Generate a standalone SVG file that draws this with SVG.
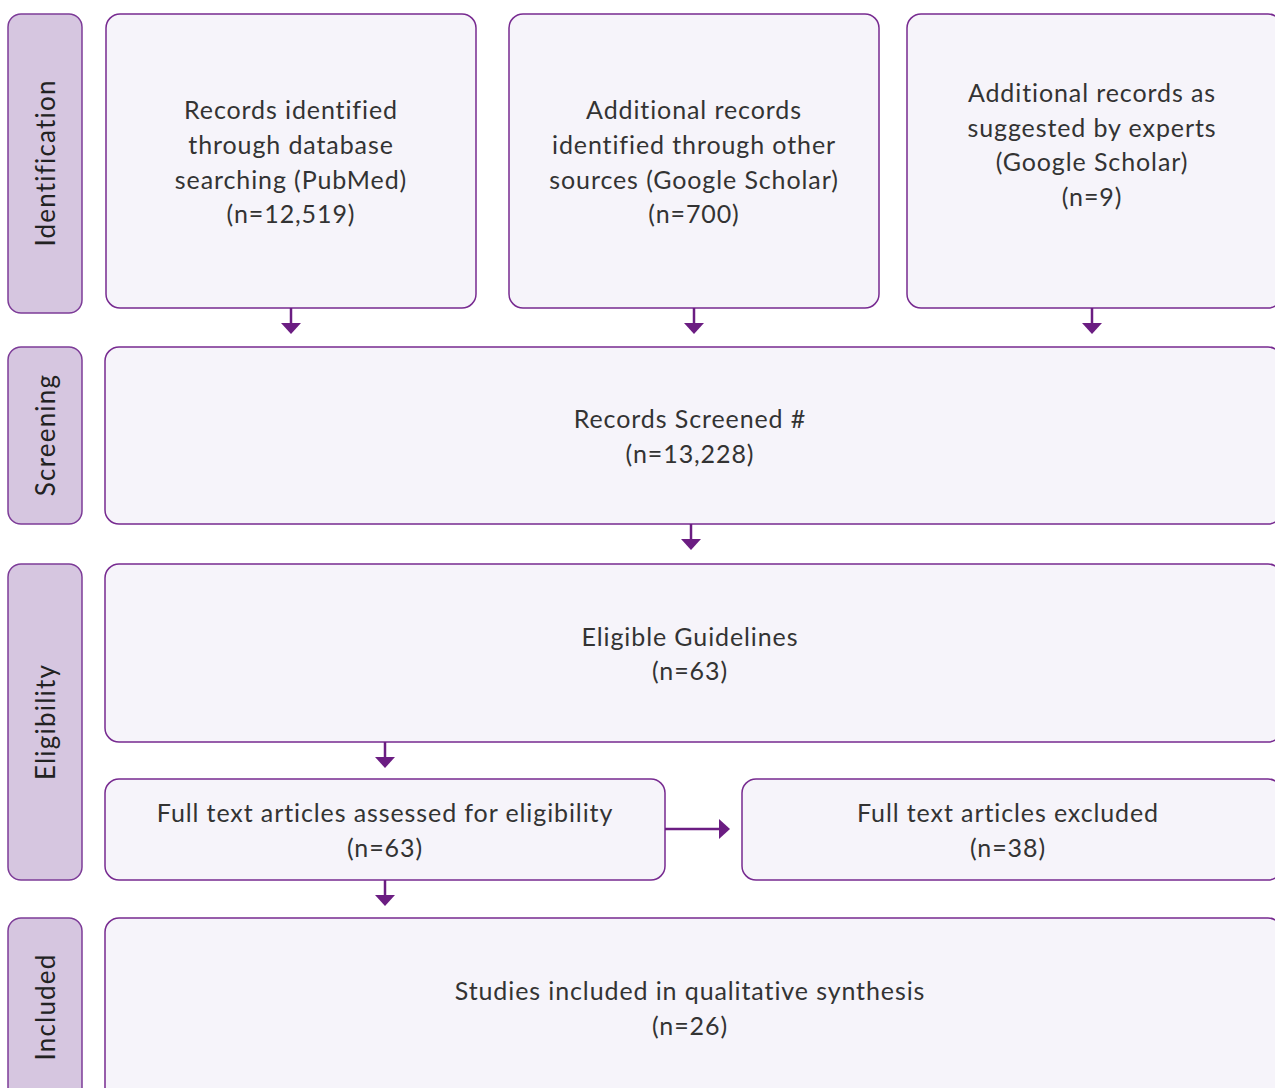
<svg xmlns="http://www.w3.org/2000/svg" width="1275" height="1088" viewBox="0 0 1275 1088">
<style>
.phase{fill:#d6c6e0;stroke:#7d3c98;stroke-width:1.5}
.box{fill:#f6f4fa;stroke:#772a90;stroke-width:1.5}
.t{font-family:Lato,"Open Sans",sans-serif;font-size:25px;letter-spacing:0.9px;fill:#333;text-anchor:middle}
.pt{font-family:Lato,"Open Sans",sans-serif;font-size:26px;letter-spacing:1.2px;fill:#222;text-anchor:middle}
.c{stroke:#6b1d82;stroke-width:2.5;fill:none}
</style>
<defs>
<marker id="ah" markerWidth="10" markerHeight="10" refX="0" refY="5" orient="auto" markerUnits="userSpaceOnUse" viewBox="0 0 10 10" overflow="visible">
<path d="M-1,-5 L10,5 L-1,15 Z" fill="#6b1d82"/>
</marker>
</defs>
<rect width="1275" height="1088" fill="#fff"/>
<g id="phase-identification"><rect class="phase" x="8" y="14" width="74" height="299" rx="13"/><text class="pt" transform="translate(55,163) rotate(-90)">Identification</text></g>
<g id="phase-screening"><rect class="phase" x="8" y="347" width="74" height="177" rx="13"/><text class="pt" transform="translate(55,435) rotate(-90)">Screening</text></g>
<g id="phase-eligibility"><rect class="phase" x="8" y="564" width="74" height="316" rx="13"/><text class="pt" transform="translate(55,722) rotate(-90)">Eligibility</text></g>
<g id="phase-included"><rect class="phase" x="8" y="918" width="74" height="190" rx="13"/><text class="pt" transform="translate(55,1007) rotate(-90)">Included</text></g>

<g id="box-pubmed"><rect class="box" x="106" y="14" width="370" height="294" rx="14"/>
<text class="t" x="291" y="119">Records identified</text><text class="t" x="291" y="154">through database</text><text class="t" x="291" y="189">searching (PubMed)</text><text class="t" x="291" y="223">(n=12,519)</text></g>
<g id="box-other"><rect class="box" x="509" y="14" width="370" height="294" rx="14"/>
<text class="t" x="694" y="119">Additional records</text><text class="t" x="694" y="154">identified through other</text><text class="t" x="694" y="189">sources (Google Scholar)</text><text class="t" x="694" y="223">(n=700)</text></g>
<g id="box-experts"><rect class="box" x="907" y="14" width="375" height="294" rx="14"/>
<text class="t" x="1092" y="102">Additional records as</text><text class="t" x="1092" y="137">suggested by experts</text><text class="t" x="1092" y="171">(Google Scholar)</text><text class="t" x="1092" y="206">(n=9)</text></g>
<g id="box-screened"><rect class="box" x="105" y="347" width="1177" height="177" rx="14"/>
<text class="t" x="690" y="428">Records Screened #</text><text class="t" x="690" y="463">(n=13,228)</text></g>
<g id="box-eligible"><rect class="box" x="105" y="564" width="1177" height="178" rx="14"/>
<text class="t" x="690" y="646">Eligible Guidelines</text><text class="t" x="690" y="680">(n=63)</text></g>
<g id="box-assessed"><rect class="box" x="105" y="779" width="560" height="101" rx="14"/>
<text class="t" x="385" y="822">Full text articles assessed for eligibility</text><text class="t" x="385" y="857">(n=63)</text></g>
<g id="box-excluded"><rect class="box" x="742" y="779" width="540" height="101" rx="14"/>
<text class="t" x="1008" y="822">Full text articles excluded</text><text class="t" x="1008" y="857">(n=38)</text></g>
<g id="box-included"><rect class="box" x="105" y="918" width="1177" height="190" rx="14"/>
<text class="t" x="690" y="1000">Studies included in qualitative synthesis</text><text class="t" x="690" y="1035">(n=26)</text></g>

<g id="connectors">
<path class="c" d="M291,308 V324" marker-end="url(#ah)"/>
<path class="c" d="M694,308 V324" marker-end="url(#ah)"/>
<path class="c" d="M1092,308 V324" marker-end="url(#ah)"/>
<path class="c" d="M691,524 V540" marker-end="url(#ah)"/>
<path class="c" d="M385,742 V758" marker-end="url(#ah)"/>
<path class="c" d="M385,880 V896" marker-end="url(#ah)"/>
<path class="c" d="M665,829 H720" marker-end="url(#ah)"/>
</g>
</svg>
